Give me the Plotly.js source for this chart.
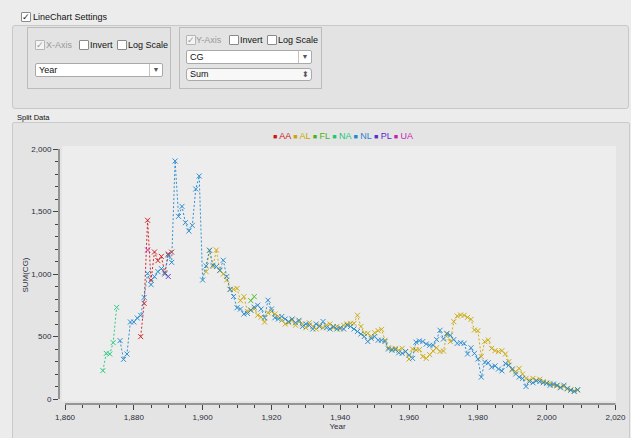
<!DOCTYPE html>
<html><head><meta charset="utf-8">
<script src="https://cdn.plot.ly/plotly-3.0.1.min.js"></script>
<style>
body{margin:0;padding:0;background:#ececec;font-family:"Liberation Sans",Arial,sans-serif;}
.abs{position:absolute;}
.cb{position:absolute;width:8px;height:8px;border:1px solid #8a8a8a;background:#fff;border-radius:1px;font-size:9px;line-height:8px;text-align:center;color:#222;}
.cb.dis{border-color:#b5b5b5;color:#9a9a9a;background:#f4f4f4;}
.t{position:absolute;font-size:9px;color:#111;white-space:nowrap;line-height:10px;}
.t.dis{color:#999;}
.dd{position:absolute;background:#fff;border:1px solid #a9a9a9;border-radius:2px;font-size:9px;line-height:12px;color:#111;padding-left:3px;box-sizing:border-box;}
.arr{position:absolute;right:0;top:0;bottom:0;width:12px;border-left:1px solid #c4c4c4;font-size:7px;text-align:center;color:#555;}
</style></head>
<body>
<div class="abs" style="left:0;top:0;width:631px;height:438px;background:#ececec;"></div>
<!-- settings header -->
<div class="cb" style="left:21px;top:12px;">✓</div>
<div class="t" style="left:33px;top:12px;">LineChart Settings</div>
<div class="abs" style="left:12px;top:25px;width:615px;height:82px;background:#e3e3e3;border:1px solid #c8c8c8;border-radius:3px;"></div>
<!-- X group -->
<div class="abs" style="left:27px;top:27px;width:142px;height:60px;border:1px solid #bcbcbc;background:#e3e3e3;"></div>
<div class="cb dis" style="left:35px;top:40px;">✓</div>
<div class="t dis" style="left:46px;top:40px;">X-Axis</div>
<div class="cb" style="left:79px;top:40px;"></div>
<div class="t" style="left:90px;top:40px;">Invert</div>
<div class="cb" style="left:117px;top:40px;"></div>
<div class="t" style="left:128px;top:40px;">Log Scale</div>
<div class="dd" style="left:35px;top:63px;width:128px;height:14px;">Year<div class="arr">▼</div></div>
<!-- Y group -->
<div class="abs" style="left:179px;top:27px;width:141px;height:60px;border:1px solid #bcbcbc;background:#e3e3e3;"></div>
<div class="cb dis" style="left:186px;top:35px;">✓</div>
<div class="t dis" style="left:196px;top:35px;">Y-Axis</div>
<div class="cb" style="left:229px;top:35px;"></div>
<div class="t" style="left:240px;top:35px;">Invert</div>
<div class="cb" style="left:267px;top:35px;"></div>
<div class="t" style="left:278px;top:35px;">Log Scale</div>
<div class="dd" style="left:186px;top:50px;width:126px;height:14px;">CG<div class="arr">▼</div></div>
<div class="dd" style="left:186px;top:68px;width:126px;height:13px;border-radius:3px;line-height:11px;background:#f8f8f8;">Sum<div class="arr" style="border-left:none;font-size:8px;">⬍</div></div>
<!-- split data -->
<div class="t" style="left:17px;top:113px;font-size:7.5px;">Split Data</div>
<div class="abs" style="left:12px;top:122px;width:616px;height:320px;background:#e4e4e4;border:1px solid #cacaca;border-radius:2px;"></div>
<div id="chart" class="abs" style="left:0;top:0;width:631px;height:438px;"></div>
<script>
// ---- data (Sum of CG per league per year) ----
const leagues = ['AA','AL','FL','NA','NL','PL','UA'];
const colors  = {AA:'#cc1414', AL:'#c9a700', FL:'#45b516', NA:'#17c878', NL:'#1f86cf', PL:'#5a2bd0', UA:'#cc1cb0'};
const startYear = {AA:1882, AL:1901, FL:1914, NA:1871, NL:1876, PL:1890, UA:1884};

const valuesNA = [227, 365, 360, 451, 733];
const valuesAA = [499, 765, 1430, 950, 1176, 1107, 1141, 1010, 1160, 1175];
const valuesUA = [1192];
const valuesPL = [980];
const valuesFL = [787, 819];
const valuesNL = [
 467, 317, 360, 616, 616, 648, 669, 813, 1005, 915,      // 1876-1885
 979, 1019, 1043, 1000, 1150, 1093, 1904, 1461, 1541, 1411, // 1886-1895
 1344, 1389, 1680, 1784, 952, 1065, 1190, 1070, 1060, 1030, // 1896-1905
 1110, 980, 877, 820, 730, 720, 680, 685, 710, 735,       // 1906-1915
 750, 720, 650, 790, 720, 650, 640, 660, 640, 620,        // 1916-1925
 640, 610, 630, 580, 600, 590, 560, 600, 580, 620,        // 1926-1935
 570, 560, 580, 560, 570, 560, 590, 580, 560, 540,        // 1936-1945
 520, 500, 460, 485, 500, 470, 470, 460, 400, 390,        // 1946-1955
 395, 370, 365, 380, 350, 325, 455, 465, 460, 440,        // 1956-1965
 430, 430, 475, 550, 480, 525, 510, 475, 445, 450,        // 1966-1975
 445, 360, 410, 365, 320, 175, 295, 290, 255, 265,        // 1976-1985
 240, 225, 285, 270, 240, 200, 175, 165, 100, 140,        // 1986-1995
 130, 145, 140, 130, 125, 110, 120, 110, 90, 110,         // 1996-2005
 85, 70, 60, 75                                           // 2006-2009
];
const valuesAL = [
 1019, 1190, 1060, 1192, 1027, 1000, 952, 877, 877,       // 1901-1909
 885, 787, 819, 700, 712, 720, 670, 655, 615, 690,        // 1910-1919
 700, 680, 660, 630, 600, 610, 630, 590, 620, 600,        // 1920-1929
 570, 610, 580, 560, 590, 570, 590, 600, 570, 580,        // 1930-1939
 560, 590, 600, 605, 605, 670, 580, 525, 525, 500,        // 1940-1949
 530, 547, 557, 470, 410, 400, 405, 390, 405, 380,        // 1950-1959
 320, 400, 392, 395, 340, 325, 355, 385, 410, 380,        // 1960-1969
 384, 520, 459, 619, 664, 672, 669, 653, 637, 552,        // 1970-1979
 547, 339, 459, 472, 405, 387, 379, 387, 360, 299,        // 1980-1989
 232, 219, 245, 200, 165, 152, 165, 150, 158, 140,        // 1990-1999
 130, 125, 110, 105, 95, 100, 80, 75, 65, 70              // 2000-2009
];
const seriesValues = {AA:valuesAA, AL:valuesAL, FL:valuesFL, NA:valuesNA, NL:valuesNL, PL:valuesPL, UA:valuesUA};
const xTickVals = [1860, 1880, 1900, 1920, 1940, 1960, 1980, 2000, 2020];
const yTickVals = [0, 500, 1000, 1500, 2000];

// ---- traces ----
const traces = leagues.map(lg => {
  const vals = seriesValues[lg];
  const yrs = vals.map((v, i) => startYear[lg] + i);
  return {
    type: 'scatter', mode: 'lines+markers', name: lg, x: yrs, y: vals,
    line: {color: colors[lg], width: 1, dash: '2px,2px'},
    marker: {symbol: 'x-thin-open', size: 5, color: colors[lg], line: {color: colors[lg], width: 1}},
    opacity: 0.9,
    showlegend: false, hoverinfo: 'skip'
  };
});
// draw the two big leagues so NL sits on top like the reference
const order = ['NA','UA','PL','FL','AA','AL','NL'];
traces.sort((a, b) => order.indexOf(a.name) - order.indexOf(b.name));

const legendText = leagues.map(lg =>
  '<span style="color:' + colors[lg] + ';font-size:7px">■</span> <span style="color:' + colors[lg] + '">' + lg + '</span>'
).join(' ');

const tickFont = {family: 'Liberation Sans, Arial, sans-serif', size: 8, color: '#2b2b3b'};
const layout = {
  width: 631, height: 438,
  margin: {l: 59, r: 15, t: 146, b: 34, pad: 0},
  paper_bgcolor: 'rgba(0,0,0,0)', plot_bgcolor: 'rgba(0,0,0,0)',
  showlegend: false,
  separators: '.,',
  xaxis: {
    range: [1858.25, 2020.15], tickvals: xTickVals, tickformat: ',d',
    ticks: 'outside', ticklen: 5, tickwidth: 1, tickcolor: '#444',
    minor: {dtick: 5, tick0: 1860, ticks: 'outside', ticklen: 3, tickcolor: '#444', showgrid: false},
    showline: false, showgrid: false, zeroline: false, tickfont: tickFont,
    title: {text: 'Year', font: tickFont, standoff: 2}
  },
  yaxis: {
    range: [-40, 2024], tickvals: yTickVals, tickformat: ',d',
    ticks: 'outside', ticklen: 5, tickwidth: 1, tickcolor: '#444',
    minor: {dtick: 100, tick0: 0, ticks: 'outside', ticklen: 3, tickcolor: '#444', showgrid: false},
    showline: false, showgrid: false, zeroline: false, tickfont: tickFont,
    title: {text: 'SUM(CG)', font: tickFont, standoff: 1}
  },
  shapes: [
    {type: 'rect', xref: 'paper', yref: 'paper', x0: 0.0054, x1: 1, y0: 0.012, y1: 1,
     fillcolor: '#ededed', line: {width: 0}, layer: 'below'},
    {type: 'line', xref: 'paper', yref: 'y', x0: 0, x1: 0, y0: 0, y1: 2000, line: {color: '#444', width: 1}},
    {type: 'line', xref: 'x', yref: 'paper', x0: 1860, x1: 2020, y0: 0, y1: 0, line: {color: '#444', width: 1}}
  ],
  annotations: [
    {xref: 'paper', yref: 'paper', x: 0.509, y: 1.04, text: legendText, showarrow: false,
     xanchor: 'center', yanchor: 'middle', font: {family: 'Liberation Sans, Arial, sans-serif', size: 9}}
  ]
};
Plotly.newPlot('chart', traces, layout, {displayModeBar: false, staticPlot: true});
</script>
</body></html>
